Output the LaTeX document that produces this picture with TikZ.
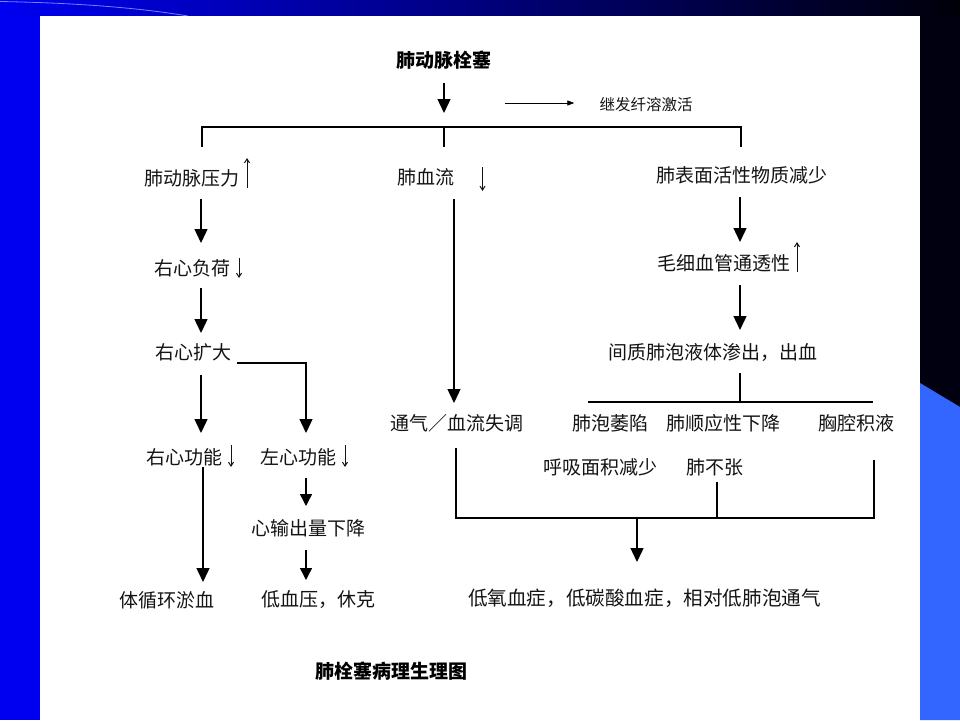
\documentclass[tikz,border=0pt]{standalone}
\usepackage{fontspec}
\setmainfont{Noto Sans CJK SC}
\usetikzlibrary{arrows.meta,calc}
\definecolor{barleft}{RGB}{0,0,240}
\definecolor{barmid}{RGB}{0,0,175}
\definecolor{barright}{RGB}{0,0,8}
\definecolor{leftblue}{RGB}{0,0,240}
\definecolor{rightdark}{RGB}{0,0,16}
\definecolor{rightblue}{RGB}{51,102,255}
\definecolor{curveblue}{RGB}{110,135,255}
\definecolor{ink}{RGB}{20,20,20}
\begin{document}
\begin{tikzpicture}[x=1pt,y=-1pt,
  txt/.style={inner sep=0pt, font=\fontsize{19}{22}\selectfont, text=ink},
  smalltxt/.style={inner sep=0pt, font=\fontsize{15.5}{18}\selectfont, text=ink},
  boldtxt/.style={inner sep=0pt, font=\fontsize{19}{22}\selectfont\bfseries, text=black},
  ln/.style={draw=black, line width=1.2pt},
  arr/.style={draw=black, line width=1.4pt, -{Triangle[length=14pt,width=13pt]}},
  arrs/.style={draw=black, line width=1.4pt, -{Triangle[length=12pt,width=12pt]}},
  sarr/.style={draw=black, line width=0.8pt, -{Triangle[length=7pt,width=5pt]}},
  ind/.style={draw=ink, line width=1pt, -{Straight Barb[length=4pt,width=5pt]}}]
\useasboundingbox (0,0) rectangle (960,720);
% background
\fill[leftblue] (0,0) rectangle (40,720);
\shade[left color=barleft, middle color=barmid, right color=barright] (0,0) rectangle (960,16);
\fill[rightdark] (920,16) rectangle (960,720);
\fill[rightblue] (920,383) -- (960,407) -- (960,720) -- (920,720) -- cycle;
\draw[curveblue, line width=0.8pt] (0,1.5) .. controls (80,3) and (140,8) .. (188,16);
\fill[white] (40,16) rectangle (920,720);

% column coordinates
\coordinate (cL) at (201,0);
\coordinate (cLL) at (306,0);
\coordinate (cM) at (454,0);
\coordinate (cR) at (740,0);
\coordinate (brL) at (202,127);
\coordinate (brM) at (444,127);
\coordinate (brR) at (741,127);
\coordinate (br2) at (740,402);
\coordinate (br2L) at (588,402);
\coordinate (br2R) at (873,402);
\coordinate (colL) at (456,518);
\coordinate (colR) at (874,518);
\coordinate (colA) at (637,518);

% nodes
\node[boldtxt] (title) at (444,60) {肺动脉栓塞};
\node[smalltxt] (fib) at (646,105) {继发纤溶激活};
\node[txt] (pap) at (191.5,178.5) {肺动脉压力};
\node[txt] (pbf) at (425.5,177) {肺血流};
\node[txt] (pss) at (742,175) {肺表面活性物质减少};
\node[txt] (rxfh) at (192.5,268) {右心负荷};
\node[txt] (rxkd) at (193,352) {右心扩大};
\node[txt] (cap) at (723.5,263) {毛细血管通透性};
\node[txt] (jz) at (713,352) {间质肺泡液体渗出，出血};
\node[txt] (rxgn) at (184,457) {右心功能};
\node[txt] (zxgn) at (298.5,457) {左心功能};
\node[txt] (tq) at (456.5,423) {通气／血流失调};
\node[txt] (fpws) at (610,423) {肺泡萎陷};
\node[txt] (fsyx) at (723.5,423) {肺顺应性下降};
\node[txt] (xqjy) at (856.5,423) {胸腔积液};
\node[txt] (hxmj) at (600,467) {呼吸面积减少};
\node[txt] (fbz) at (715,467) {肺不张};
\node[txt] (xxh) at (166.5,600) {体循环淤血};
\node[txt] (xsc) at (308.5,528) {心输出量下降};
\node[txt] (dxy) at (318.5,600) {低血压，休克};
\node[txt, font=\fontsize{19.6}{22}\selectfont] (final) at (644.5,598) {低氧血症，低碳酸血症，相对低肺泡通气};
\node[boldtxt] (caption) at (391.5,671) {肺栓塞病理生理图};

% indicators (up / down)
\draw[ind] ($(pap.center)+(55.5,9.5)$) -- ($(pap.center)+(55.5,-20.5)$);
\draw[ind] ($(pbf.center)+(57,-10)$) -- ($(pbf.center)+(57,14)$);
\draw[ind] ($(rxfh.center)+(46.5,-10)$) -- ($(rxfh.center)+(46.5,10)$);
\draw[ind] ($(rxgn.center)+(47,-12)$) -- ($(rxgn.center)+(47,10)$);
\draw[ind] ($(zxgn.center)+(46.5,-12)$) -- ($(zxgn.center)+(46.5,10)$);
\draw[ind] ($(cap.center)+(73.5,9)$) -- ($(cap.center)+(73.5,-21)$);

% top connectors
\draw[arr] ($(title.center)+(0,23)$) -- ($(brM)+(0,-14)$);
\draw[sarr] ($(fib.west)+(-94,-2)$) -- ($(fib.west)+(-25,-2)$);
\draw[ln] ($(brL |- pap)+(0,-32)$) -- (brL) -- (brR) -- ($(brR |- pss)+(0,-28)$);
\draw[ln] (brM) -- ($(brM |- pbf)+(0,-30)$);

% left column
\draw[arr] ($(cL |- pap)+(0,20.5)$) -- ($(cL |- rxfh)+(0,-25)$);
\draw[arr] ($(cL |- rxfh)+(0,20)$) -- ($(cL |- rxkd)+(0,-19)$);
\draw[arr] ($(cL |- rxkd)+(0,23)$) -- ($(cL |- rxgn)+(0,-24)$);
\draw[arr] ($(rxkd.east)+(6,11)$) -| ($(cLL |- zxgn)+(0,-24)$);
\draw[arr] ($(cL |- rxgn)+(2,10)$) -- ($(cL |- xxh)+(2,-18)$);
\draw[arrs] ($(cLL |- zxgn)+(0,21)$) -- ($(cLL |- xsc)+(0,-22)$);
\draw[arrs] ($(cLL |- xsc)+(0,22)$) -- ($(cLL |- dxy)+(0,-20)$);

% middle column
\draw[arr] ($(cM |- pbf)+(0,22)$) -- ($(cM |- tq)+(0,-20)$);

% right column
\draw[arr] ($(cR |- pss)+(0,22)$) -- ($(cR |- cap)+(0,-21)$);
\draw[arr] ($(cR |- cap)+(0,22)$) -- ($(cR |- jz)+(0,-22)$);
\draw[ln] ($(cR |- jz)+(0,21)$) -- (br2);
\draw[ln] (br2L) -- (br2R);

% collecting lines
\draw[ln] ($(colL |- tq)+(0,25)$) -- (colL) -- (colR) -- ($(colR |- xqjy)+(0,37)$);
\draw[ln] ($(fbz.center)+(2,15)$) -- ($(colL -| fbz)+(2,0)$);
\draw[arr] (colA) -- ($(final.center)+(-7.5,-36)$);
\end{tikzpicture}
\end{document}
